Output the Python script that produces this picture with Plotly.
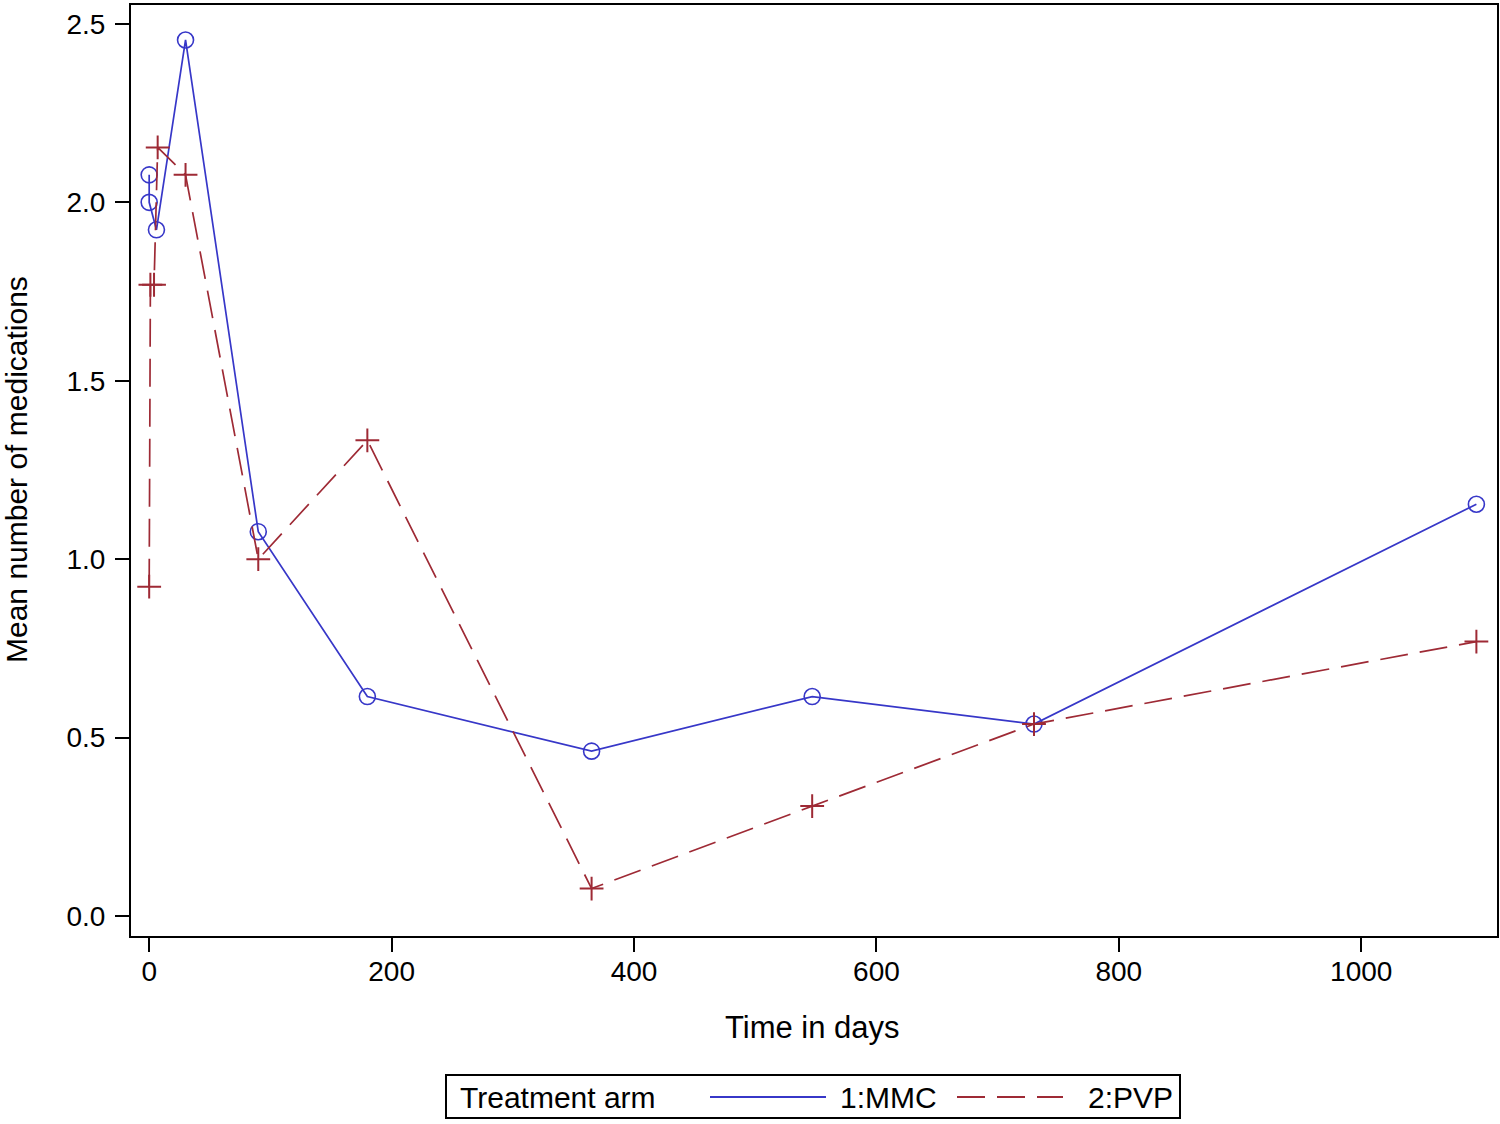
import plotly.graph_objects as go

mmc_days = [0, 0, 6, 30, 90, 180, 365, 547, 730, 1095]
mmc_vals = [2.077, 2.0, 1.923, 2.455, 1.077, 0.615, 0.462, 0.615, 0.538, 1.154]
pvp_days = [0, 1, 4, 7, 30, 90, 180, 365, 547, 730, 1095]
pvp_vals = [0.923, 1.769, 1.769, 2.154, 2.077, 1.0, 1.333, 0.077, 0.308, 0.538, 0.769]

x_ticks = [0, 200, 400, 600, 800, 1000]
y_ticks = [0.0, 0.5, 1.0, 1.5, 2.0, 2.5]

blue = "#3737C8"
red = "#9E2A35"
FONT = "Liberation Sans"
DASH = "28px,12px"

W, H = 1500, 1124
L, R, T, B = 131, 3, 5, 188
PW, PH = W - L - R, H - T - B


def px(xp):
    return (xp - L) / PW


def py(yp):
    return (H - B - yp) / PH


fig = go.Figure()
fig.add_trace(go.Scatter(
    x=mmc_days, y=mmc_vals, mode="lines+markers", showlegend=False,
    line=dict(color=blue, width=1.7),
    marker=dict(symbol="circle-open", size=16, color=blue, line=dict(width=1.6)),
))
fig.add_trace(go.Scatter(
    x=pvp_days, y=pvp_vals, mode="lines+markers", showlegend=False,
    line=dict(color=red, width=1.7, dash=DASH),
    marker=dict(symbol="cross-thin-open", size=17, color=red, line=dict(width=2, color=red)),
))

axis_common = dict(
    showline=True, linecolor="black", linewidth=2, mirror=True,
    ticks="outside", ticklen=14, tickwidth=2, tickcolor="black",
    showgrid=False, zeroline=False, automargin=False,
    tickfont=dict(family=FONT, size=28, color="black"),
)

shapes = [
    dict(type="rect", xref="paper", yref="paper",
         x0=px(446), x1=px(1180), y0=py(1118), y1=py(1075),
         line=dict(color="black", width=2), fillcolor="white"),
    dict(type="line", xref="paper", yref="paper",
         x0=px(710), x1=px(826), y0=py(1097), y1=py(1097),
         line=dict(color=blue, width=1.8)),
    dict(type="line", xref="paper", yref="paper",
         x0=px(957), x1=px(1063), y0=py(1097), y1=py(1097),
         line=dict(color=red, width=1.8, dash=DASH)),
]


def ann(text, x, y, size, xanchor="center", angle=0):
    return dict(text=text, xref="paper", yref="paper", x=px(x), y=py(y),
                xanchor=xanchor, yanchor="middle", textangle=angle,
                showarrow=False, font=dict(family=FONT, size=size, color="black"))


annotations = [
    ann("Mean number of medications", 17, 470, 30, angle=-90),
    ann("Time in days", 812, 1027, 31),
    ann("Treatment arm", 458, 1097, 30, xanchor="left"),
    ann("1:MMC", 838, 1097, 30, xanchor="left"),
    ann("2:PVP", 1086, 1097, 30, xanchor="left"),
]

fig.update_layout(
    width=W, height=H,
    margin=dict(l=L, r=R, t=T, b=B),
    paper_bgcolor="white", plot_bgcolor="white",
    font=dict(family=FONT, color="black"),
    showlegend=False,
    xaxis=dict(range=[-15, 1112], tickvals=x_ticks, ticklabelstandoff=-5, **axis_common),
    yaxis=dict(range=[-0.056, 2.553], tickvals=y_ticks, tickformat=".1f",
               ticklabelstandoff=4, **axis_common),
    shapes=shapes,
    annotations=annotations,
)

fig.write_html(
    "out.html",
    config={"displayModeBar": False},
    post_script="document.body.style.margin='0';document.body.style.overflow='hidden';",
)
